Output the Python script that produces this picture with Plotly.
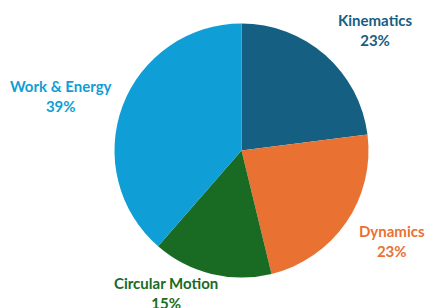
import numpy as np
import plotly.graph_objects as go

categories = ["Kinematics", "Dynamics", "Circular Motion", "Work & Energy"]
values = [23.0, 23.2, 15.2, 38.6]
colors = ["#156082", "#E97132", "#196B24", "#0F9ED5"]

# layout: label block centres in pixels (from top-left)
label_pos = [(375, 30), (392, 241), (166, 293), (61, 96)]

W, H = 426, 308
cx, cy, R = 241.5, 150.5, 127.0   # pie centre/radius in pixels

fig = go.Figure(go.Pie(
    labels=categories,
    values=values,
    sort=False,
    direction="clockwise",
    rotation=0,
    marker=dict(colors=colors, line=dict(width=0)),
    textinfo="none",
    hoverinfo="label+percent",
    showlegend=False,
    domain=dict(x=[(cx - R) / W, (cx + R) / W], y=[(H - cy - R) / H, (H - cy + R) / H]),
))

vals = np.array(values)
frac = vals / vals.sum()

annotations = []
for name, f, (px, py), c in zip(categories, frac, label_pos, colors):
    annotations.append(dict(
        x=px / W, y=(H - py) / H, xref="paper", yref="paper",
        text=f"<b>{name}<br>{f*100:.0f}%</b>",
        showarrow=False, xanchor="center", yanchor="middle",
        font=dict(family="Lato", size=15, color=c),
        align="center",
    ))

fig.update_layout(
    width=W, height=H,
    margin=dict(l=0, r=0, t=0, b=0),
    paper_bgcolor="white", plot_bgcolor="white",
    annotations=annotations,
)

fig.write_html("out.html", config={"displayModeBar": False},
               post_script="document.body.style.margin='0';")
